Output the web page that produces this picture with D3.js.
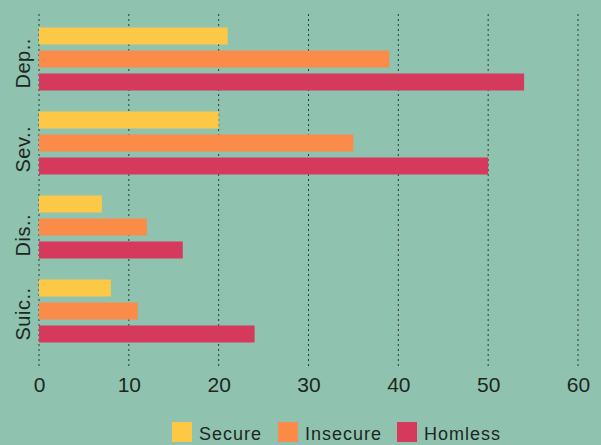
<!DOCTYPE html>
<html><head><meta charset="utf-8">
<script src="https://cdn.jsdelivr.net/npm/d3@7/dist/d3.min.js"></script>
<style>html,body{margin:0;padding:0;background:#8fc3b0;}svg{display:block;}</style>
</head><body>
<script>
const categories = ["Dep..", "Sev..", "Dis..", "Suic.."];
const seriesNames = ["Secure", "Insecure", "Homless"];
const secure = [21, 20, 7, 8];
const insecure = [39, 35, 12, 11];
const homeless = [54, 50, 16, 24];
const xTicks = [0, 10, 20, 30, 40, 50, 60];
const colors = ["#fcc846", "#fb8b48", "#d5395b"];

const W = 601, H = 445;
const FONT = "'Liberation Sans', Arial, sans-serif";
const svg = d3.select("body").append("svg").attr("width", W).attr("height", H);
svg.append("rect").attr("width", W).attr("height", H).attr("fill", "#8fc3b0");

const x = d3.scaleLinear().domain([0, 60]).range([39, 578]);
const y0 = d3.scaleBand().domain(categories).range([17, 353]).paddingInner(0.25).paddingOuter(0.125);
const y1 = d3.scaleBand().domain(seriesNames).range([0, y0.bandwidth()]).paddingInner(0.26);

// gridlines
svg.append("g").selectAll("line").data(xTicks).join("line")
  .attr("x1", d => x(d)).attr("x2", d => x(d))
  .attr("y1", 14).attr("y2", 368)
  .attr("stroke", "#2c3a35").attr("stroke-width", 1).attr("stroke-dasharray", "2,3");

const table = categories.map((c, i) => ({cat: c, vals: [secure[i], insecure[i], homeless[i]]}));
const g = svg.append("g").selectAll("g").data(table).join("g")
  .attr("transform", d => `translate(0,${y0(d.cat)})`);
g.selectAll("rect").data(d => d.vals.map((v, j) => ({v, s: seriesNames[j], j}))).join("rect")
  .attr("x", x(0)).attr("y", d => y1(d.s)).attr("height", y1.bandwidth())
  .attr("width", d => x(d.v) - x(0)).attr("fill", d => colors[d.j]);

// category labels
svg.append("g").selectAll("text").data(categories).join("text")
  .attr("transform", d => `translate(30,${y0(d) + y0.bandwidth() - 2}) rotate(-90)`)
  .attr("text-anchor", "start")
  .attr("font-family", FONT).attr("font-size", 20).attr("letter-spacing", "0.5px")
  .attr("fill", "#1e2622").text(d => d);

// x axis labels
const xAxis = d3.axisBottom(x).tickValues(xTicks).tickSize(0).tickPadding(0);
const ax = svg.append("g").attr("transform", "translate(0,377)").call(xAxis);
ax.select(".domain").remove();
ax.selectAll("text").attr("font-family", FONT)
  .attr("font-size", 21).attr("fill", "#1e2622").attr("dy", "0.71em");

// legend
const legendX = [172, 278, 397];
const lg = svg.append("g").selectAll("g").data(seriesNames).join("g")
  .attr("transform", (d, i) => `translate(${legendX[i]},422)`);
lg.append("rect").attr("width", 20).attr("height", 20).attr("fill", (d, i) => colors[i]);
lg.append("text").attr("x", 27).attr("y", 18)
  .attr("font-family", FONT).attr("font-size", 18)
  .attr("letter-spacing", "1px")
  .attr("fill", "#1e2622").text(d => d);
</script>
</body></html>
